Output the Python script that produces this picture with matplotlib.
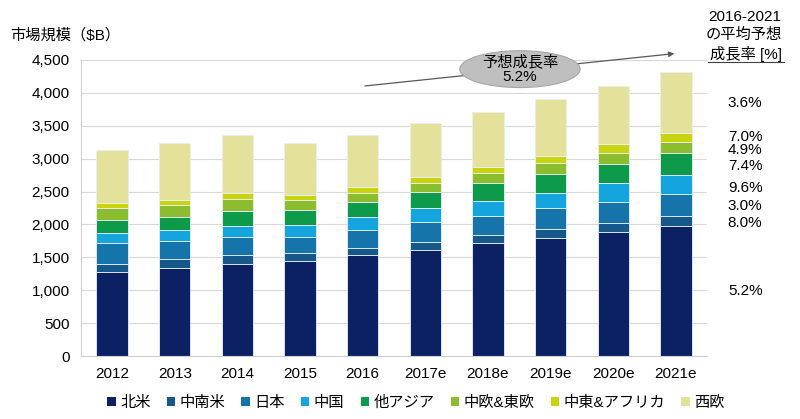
import numpy as np
import matplotlib
matplotlib.use("Agg")
import matplotlib.pyplot as plt
from matplotlib.patches import Ellipse, Patch

plt.rcParams['font.family'] = ['Liberation Sans', 'Noto Sans CJK JP', 'DejaVu Sans']

years = ['2012', '2013', '2014', '2015', '2016', '2017e', '2018e', '2019e', '2020e', '2021e']
regions = ['北米', '中南米', '日本', '中国', '他アジア', '中欧&東欧', '中東&アフリカ', '西欧']

# market size per region, $B
north_america = [1272, 1333, 1398, 1444, 1535, 1611, 1713, 1789, 1889, 1981]
latin_america = [126, 141, 137, 126, 102, 126, 126, 137, 137, 147]
japan = [324, 274, 279, 244, 278, 295, 289, 319, 319, 330]
china = [143, 167, 167, 177, 203, 213, 228, 237, 280, 293]
other_asia = [202, 203, 223, 228, 218, 243, 269, 280, 289, 330]
central_east_europe = [188, 172, 178, 152, 137, 147, 152, 167, 176, 177]
middle_east_africa = [75, 81, 91, 76, 101, 91, 100, 111, 128, 127]
west_europe = [800, 862, 887, 796, 785, 821, 836, 862, 886, 936]

growth_labels = ['5.2%', '8.0%', '3.0%', '9.6%', '7.4%', '4.9%', '7.0%', '3.6%']
label_offsets = [0, -30, -10, -50, -30, -40, 0, 0]  # nudges so labels don't collide

colours = ['#0b2163', '#16588a', '#1574aa', '#14a4de', '#0d9a4a', '#8cbd2e', '#cad40e', '#e3e19a']

series = [north_america, latin_america, japan, china, other_asia,
          central_east_europe, middle_east_africa, west_europe]

fig = plt.figure(figsize=(8, 4.19), dpi=100)
ax = fig.add_axes([0.101, 0.150, 0.783, 0.707])

x = np.arange(len(years))
bottom = np.zeros(len(years))
for vals, col, name in zip(series, colours, regions):
    vals = np.array(vals, dtype=float)
    ax.bar(x, vals, 0.5, bottom=bottom, color=col, edgecolor='#e8f0f8', linewidth=0.6,
           label=name, zorder=2)
    bottom += vals

ax.set_ylim(0, 4500)
ax.set_xlim(-0.5, 9.5)
ax.set_yticks(np.arange(0, 4501, 500))
ax.set_yticklabels([f"{v:,}" for v in range(0, 4501, 500)], fontsize=11)
ax.set_xticks(x)
ax.set_xticklabels(years, fontsize=11)
ax.tick_params(length=0, pad=8)
ax.grid(axis='y', color='#d9d9d9', linewidth=0.8, zorder=0)
for s in ['top', 'right']:
    ax.spines[s].set_visible(False)
for s in ['left', 'bottom']:
    ax.spines[s].set_color('#d0d0d0')

fig.text(0.0125, 0.915, '市場規模（\\$B）', fontsize=11, ha='left', va='center')

# growth rate labels at the side of the last bar
cum = np.zeros(len(years))
for vals, lab, off in zip(series, growth_labels, label_offsets):
    vals = np.array(vals, dtype=float)
    mid = cum[-1] + vals[-1] / 2 + off
    ax.text(9.83, mid, lab, fontsize=11, ha='left', va='center', clip_on=False)
    cum += vals

fig.text(0.977, 0.975, '2016-2021\nの平均予想\n成長率 [%]', fontsize=11, ha='right', va='top',
         linespacing=1.3)
fig.add_artist(plt.Line2D([0.885, 0.98], [0.852, 0.852], color='#404040', linewidth=0.8))

# trend arrow and ellipse
ax.annotate('', xy=(9.02, 4600), xytext=(3.99, 4100), xycoords='data',
            arrowprops=dict(arrowstyle='-|>', color='#595959', lw=0.9, mutation_scale=8),
            annotation_clip=False, zorder=3)
ell = Ellipse((6.51, 4360), 1.92, 560, facecolor='#bfbfbf', edgecolor='#a6a6a6',
              linewidth=0.8, clip_on=False, zorder=4)
ax.add_patch(ell)
ax.text(6.51, 4360, '予想成長率\n5.2%', fontsize=11, ha='center', va='center',
        linespacing=1.1, zorder=5, clip_on=False)

handles = [Patch(facecolor=c, edgecolor='none') for c in colours]
fig.legend(handles, regions, loc='center', bbox_to_anchor=(0.52, 0.038), ncol=8,
           frameon=False, fontsize=11, handlelength=0.55, handleheight=0.55,
           handletextpad=0.3, columnspacing=1.05)

fig.savefig('out.png', dpi=100)
